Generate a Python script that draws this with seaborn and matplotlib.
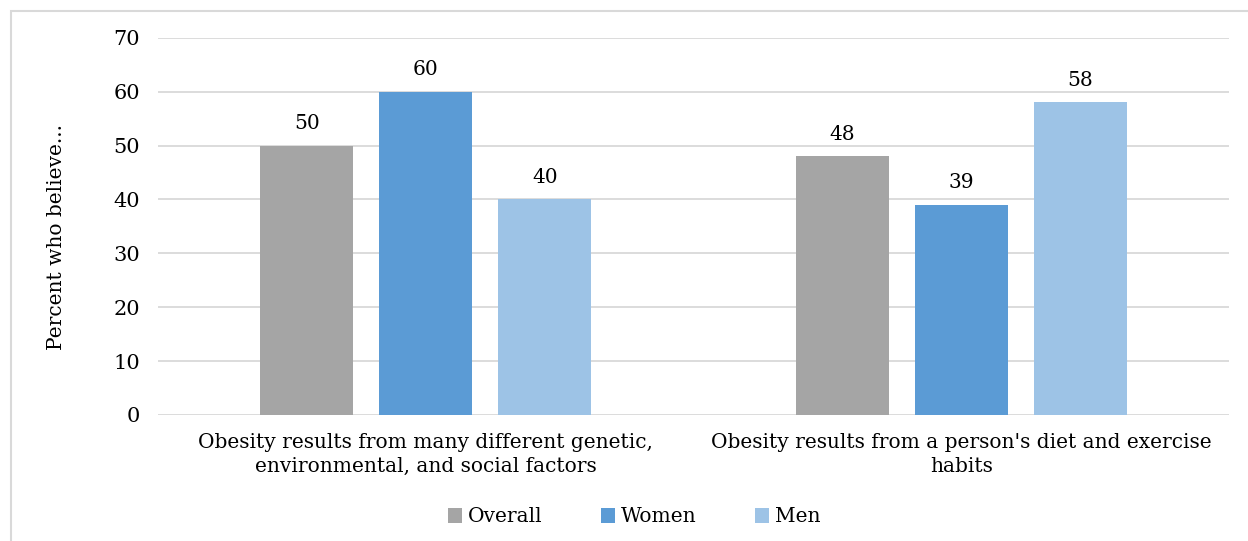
import matplotlib
matplotlib.use("Agg")
import matplotlib.pyplot as plt
import seaborn as sns
import pandas as pd
from matplotlib.patches import Rectangle, Patch

categories = ["Obesity results from many different genetic,\nenvironmental, and social factors",
              "Obesity results from a person's diet and exercise\nhabits"]
groups = ["Overall", "Women", "Men"]
overall = [50, 48]
women = [60, 39]
men = [40, 58]
colors = ["#A5A5A5", "#5B9BD5", "#9DC3E6"]

rows = []
for c, o, w, m in zip(categories, overall, women, men):
    rows += [(c, "Overall", o), (c, "Women", w), (c, "Men", m)]
df = pd.DataFrame(rows, columns=["category", "group", "value"])

sns.set_theme(style="white")
plt.rcParams["font.family"] = ["DejaVu Serif"]
plt.rcParams["text.color"] = "black"
plt.rcParams["axes.labelcolor"] = "black"

FS = 14.5

fig = plt.figure(figsize=(12.48, 5.41), dpi=100)
ax = fig.add_axes([158/1248, 1-415/541, (1229-158)/1248, (415-37.7)/541])

sns.barplot(data=df, x="category", y="value", hue="group", hue_order=groups,
            palette=colors, width=0.667, gap=0.22, ax=ax, legend=False,
            saturation=1, edgecolor="none")

ax.set_ylim(0, 70)
ax.set_yticks(range(0, 71, 10))
ax.set_xlim(-0.5, 1.5)
ax.grid(axis="y", color="#D9D9D9", linewidth=1.3)
ax.set_axisbelow(True)
for s in ax.spines.values():
    s.set_visible(False)
ax.tick_params(axis="both", length=0, labelsize=FS, colors="#000000")
ax.tick_params(axis="y", labelsize=15, pad=13)
ax.tick_params(axis="x", pad=13)
ax.set_xlabel("")
ax.set_ylabel("Percent who believe...", fontsize=FS, labelpad=34, y=0.473)
for lbl in ax.get_xticklabels():
    lbl.set_fontsize(FS)
    lbl.set_linespacing(1.3)

for cont in ax.containers:
    ax.bar_label(cont, padding=9, fontsize=FS)

handles = [Patch(facecolor=c, edgecolor="none", label=g) for g, c in zip(groups, colors)]
fig.legend(handles=handles, loc="center", bbox_to_anchor=(634/1248, 1-517/541), ncol=3,
           frameon=False, fontsize=FS, handlelength=0.7, handleheight=0.7,
           handletextpad=0.3, columnspacing=2.9)

fig.patches.append(Rectangle((11/1248, -0.1), 1.2, 1-10.5/541+0.1, transform=fig.transFigure,
                             fill=False, edgecolor="#D9D9D9", linewidth=1.5))

fig.savefig("out.png", dpi=100)
